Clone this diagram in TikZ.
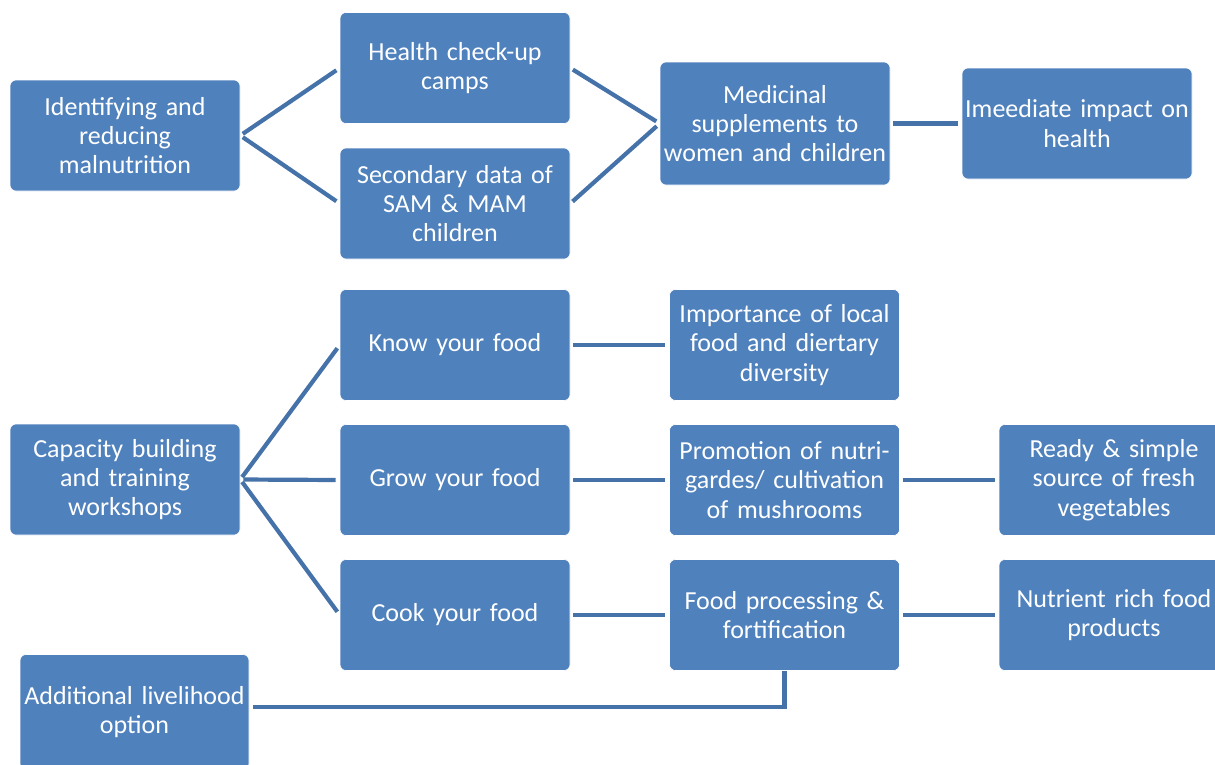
\documentclass[tikz,border=0pt]{standalone}
\usepackage{fontspec}
\setmainfont{Carlito}
\usepackage{xcolor}
\usetikzlibrary{positioning,calc}

\definecolor{boxblue}{HTML}{4F81BD}
\definecolor{linkblue}{HTML}{4672AA}

\begin{document}
\begin{tikzpicture}[x=1pt, y=-1pt,
    box/.style={draw=white, line width=0.6pt, fill=boxblue, rounded corners=6pt,
        text=white, align=center, text width=228pt, inner sep=0pt,
        minimum width=230pt, minimum height=111pt,
        font=\fontsize{26}{29.3}\selectfont},
    link/.style={draw=linkblue, line width=4.2pt, shorten <=3pt, shorten >=4pt}]
    \useasboundingbox (0,0) rectangle (1215,764);
    \clip (0,0) rectangle (1215,764);

    % Health branch
    \node[box] (ident) at (125,135.5) {Identifying and\\reducing\\malnutrition};
    \node[box] (camps) at (455,68) {Health check-up\\camps};
    \node[box] (samdata) at (455,203.5) {Secondary data of\\SAM \& MAM\\children};
    \node[box, minimum height=123pt] (medic) at (775,123.5) {Medicinal\\supplements to\\women and children};
    \node[box] (impact) at (1077,123.5) {Imeediate impact on\\health};

    \draw[link] (ident.east) -- (camps.west);
    \draw[link] (ident.east) -- (samdata.west);
    \draw[link] (camps.east) -- (medic.west);
    \draw[link] (samdata.east) -- (medic.west);
    \draw[link] (medic.east) -- (impact.west);

    % Training branch
    \node[box] (capacity) at (125,479.5) {Capacity building\\and training\\workshops};
    \node[box] (know) at (455,345) {Know your food};
    \node[box] (grow) at (455,480) {Grow your food};
    \node[box] (cook) at (455,615) {Cook your food};
    \node[box] (local) at (784.5,345) {Importance of local\\food and diertary\\diversity};
    \node[box] (garden) at (784.5,480) {Promotion of nutri-\\gardes/ cultivation\\of mushrooms};
    \node[box] (process) at (784.5,615) {Food processing \&\\fortification};
    \node[box] (veg) at (1114,480) {Ready \& simple\\source of fresh\\vegetables};
    \node[box] (rich) at (1114,615) {Nutrient rich food\\products};
    \node[box, minimum width=229pt, minimum height=115pt] (liveli) at (134.5,712) {Additional livelihood\\option};

    \foreach \to in {know, grow, cook}
        \draw[link] (capacity.east) -- (\to.west);
    \draw[link] (know.east) -- (local.west);
    \draw[link] (grow.east) -- (garden.west);
    \draw[link] (garden.east) -- (veg.west);
    \draw[link] (cook.east) -- (process.west);
    \draw[link] (process.east) -- (rich.west);
    \draw[link, shorten <=0pt] (process.south) |- ($(liveli.east)+(0,-5)$);
\end{tikzpicture}
\end{document}
